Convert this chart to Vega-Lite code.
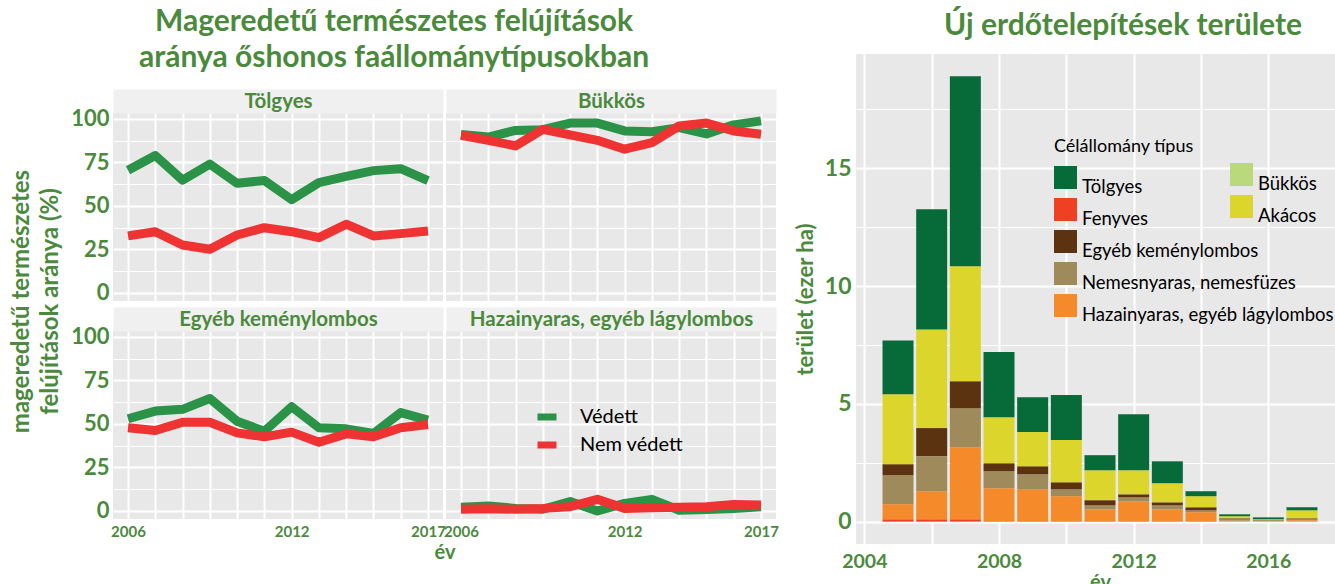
{
  "$schema": "https://vega.github.io/schema/vega-lite/v6.json",
  "background": "white",
  "padding": {"left": 9, "top": 7, "right": 0, "bottom": 0},
  "config": {
    "font": "Lato",
    "view": {"fill": "#e8e8e8", "stroke": null},
    "axis": {"gridColor": "white", "domain": false, "ticks": false, "labelColor": "#4b8a3c", "titleColor": "#4b8a3c", "labelFontWeight": "bold", "titleFontWeight": "bold", "labelFont": "Lato", "titleFont": "Lato", "labelFlush": false, "labelOverlap": false},
    "title": {"color": "#4b8a3c", "fontSize": 30, "fontWeight": "bold", "font": "Lato"},
    "legend": {"labelFont": "Lato", "titleFont": "Lato", "labelFontSize": 18.5, "labelColor": "black", "titleFontSize": 18, "titleFontWeight": "normal", "titleColor": "black", "padding": 0, "labelLimit": 400}
  },
  "datasets": {
    "lines": [
      {"panel": "Tölgyes", "status": "Védett", "year": 2006, "value": 70.5},
      {"panel": "Tölgyes", "status": "Védett", "year": 2007, "value": 79.0},
      {"panel": "Tölgyes", "status": "Védett", "year": 2008, "value": 64.8},
      {"panel": "Tölgyes", "status": "Védett", "year": 2009, "value": 74.0},
      {"panel": "Tölgyes", "status": "Védett", "year": 2010, "value": 63.0},
      {"panel": "Tölgyes", "status": "Védett", "year": 2011, "value": 64.6},
      {"panel": "Tölgyes", "status": "Védett", "year": 2012, "value": 53.6},
      {"panel": "Tölgyes", "status": "Védett", "year": 2013, "value": 63.4},
      {"panel": "Tölgyes", "status": "Védett", "year": 2014, "value": 67.0},
      {"panel": "Tölgyes", "status": "Védett", "year": 2015, "value": 70.3},
      {"panel": "Tölgyes", "status": "Védett", "year": 2016, "value": 71.4},
      {"panel": "Tölgyes", "status": "Védett", "year": 2017, "value": 64.6},
      {"panel": "Bükkös", "status": "Védett", "year": 2006, "value": 91.0},
      {"panel": "Bükkös", "status": "Védett", "year": 2007, "value": 89.6},
      {"panel": "Bükkös", "status": "Védett", "year": 2008, "value": 93.4},
      {"panel": "Bükkös", "status": "Védett", "year": 2009, "value": 93.8},
      {"panel": "Bükkös", "status": "Védett", "year": 2010, "value": 97.6},
      {"panel": "Bükkös", "status": "Védett", "year": 2011, "value": 97.6},
      {"panel": "Bükkös", "status": "Védett", "year": 2012, "value": 93.1},
      {"panel": "Bükkös", "status": "Védett", "year": 2013, "value": 92.6},
      {"panel": "Bükkös", "status": "Védett", "year": 2014, "value": 95.0},
      {"panel": "Bükkös", "status": "Védett", "year": 2015, "value": 91.4},
      {"panel": "Bükkös", "status": "Védett", "year": 2016, "value": 96.6},
      {"panel": "Bükkös", "status": "Védett", "year": 2017, "value": 98.9},
      {"panel": "Egyéb keménylombos", "status": "Védett", "year": 2006, "value": 53.0},
      {"panel": "Egyéb keménylombos", "status": "Védett", "year": 2007, "value": 57.4},
      {"panel": "Egyéb keménylombos", "status": "Védett", "year": 2008, "value": 58.4},
      {"panel": "Egyéb keménylombos", "status": "Védett", "year": 2009, "value": 64.6},
      {"panel": "Egyéb keménylombos", "status": "Védett", "year": 2010, "value": 51.6},
      {"panel": "Egyéb keménylombos", "status": "Védett", "year": 2011, "value": 45.8},
      {"panel": "Egyéb keménylombos", "status": "Védett", "year": 2012, "value": 59.9},
      {"panel": "Egyéb keménylombos", "status": "Védett", "year": 2013, "value": 47.8},
      {"panel": "Egyéb keménylombos", "status": "Védett", "year": 2014, "value": 47.2},
      {"panel": "Egyéb keménylombos", "status": "Védett", "year": 2015, "value": 44.5},
      {"panel": "Egyéb keménylombos", "status": "Védett", "year": 2016, "value": 56.5},
      {"panel": "Egyéb keménylombos", "status": "Védett", "year": 2017, "value": 52.2},
      {"panel": "Hazainyaras, egyéb lágylombos", "status": "Védett", "year": 2006, "value": 2.1},
      {"panel": "Hazainyaras, egyéb lágylombos", "status": "Védett", "year": 2007, "value": 2.9},
      {"panel": "Hazainyaras, egyéb lágylombos", "status": "Védett", "year": 2008, "value": 1.5},
      {"panel": "Hazainyaras, egyéb lágylombos", "status": "Védett", "year": 2009, "value": 1.0},
      {"panel": "Hazainyaras, egyéb lágylombos", "status": "Védett", "year": 2010, "value": 5.4},
      {"panel": "Hazainyaras, egyéb lágylombos", "status": "Védett", "year": 2011, "value": 0.0},
      {"panel": "Hazainyaras, egyéb lágylombos", "status": "Védett", "year": 2012, "value": 4.4},
      {"panel": "Hazainyaras, egyéb lágylombos", "status": "Védett", "year": 2013, "value": 6.7},
      {"panel": "Hazainyaras, egyéb lágylombos", "status": "Védett", "year": 2014, "value": 0.4},
      {"panel": "Hazainyaras, egyéb lágylombos", "status": "Védett", "year": 2015, "value": 0.8},
      {"panel": "Hazainyaras, egyéb lágylombos", "status": "Védett", "year": 2016, "value": 1.5},
      {"panel": "Hazainyaras, egyéb lágylombos", "status": "Védett", "year": 2017, "value": 2.5},
      {"panel": "Tölgyes", "status": "Nem védett", "year": 2006, "value": 32.8},
      {"panel": "Tölgyes", "status": "Nem védett", "year": 2007, "value": 35.2},
      {"panel": "Tölgyes", "status": "Nem védett", "year": 2008, "value": 27.6},
      {"panel": "Tölgyes", "status": "Nem védett", "year": 2009, "value": 25.1},
      {"panel": "Tölgyes", "status": "Nem védett", "year": 2010, "value": 33.3},
      {"panel": "Tölgyes", "status": "Nem védett", "year": 2011, "value": 37.5},
      {"panel": "Tölgyes", "status": "Nem védett", "year": 2012, "value": 35.2},
      {"panel": "Tölgyes", "status": "Nem védett", "year": 2013, "value": 31.8},
      {"panel": "Tölgyes", "status": "Nem védett", "year": 2014, "value": 39.5},
      {"panel": "Tölgyes", "status": "Nem védett", "year": 2015, "value": 32.8},
      {"panel": "Tölgyes", "status": "Nem védett", "year": 2016, "value": 34.1},
      {"panel": "Tölgyes", "status": "Nem védett", "year": 2017, "value": 35.6},
      {"panel": "Bükkös", "status": "Nem védett", "year": 2006, "value": 90.6},
      {"panel": "Bükkös", "status": "Nem védett", "year": 2007, "value": 87.7},
      {"panel": "Bükkös", "status": "Nem védett", "year": 2008, "value": 84.5},
      {"panel": "Bükkös", "status": "Nem védett", "year": 2009, "value": 94.0},
      {"panel": "Bükkös", "status": "Nem védett", "year": 2010, "value": 90.8},
      {"panel": "Bükkös", "status": "Nem védett", "year": 2011, "value": 87.7},
      {"panel": "Bükkös", "status": "Nem védett", "year": 2012, "value": 82.6},
      {"panel": "Bükkös", "status": "Nem védett", "year": 2013, "value": 86.4},
      {"panel": "Bükkös", "status": "Nem védett", "year": 2014, "value": 96.0},
      {"panel": "Bükkös", "status": "Nem védett", "year": 2015, "value": 97.6},
      {"panel": "Bükkös", "status": "Nem védett", "year": 2016, "value": 93.1},
      {"panel": "Bükkös", "status": "Nem védett", "year": 2017, "value": 91.2},
      {"panel": "Egyéb keménylombos", "status": "Nem védett", "year": 2006, "value": 47.8},
      {"panel": "Egyéb keménylombos", "status": "Nem védett", "year": 2007, "value": 46.2},
      {"panel": "Egyéb keménylombos", "status": "Nem védett", "year": 2008, "value": 51.0},
      {"panel": "Egyéb keménylombos", "status": "Nem védett", "year": 2009, "value": 51.0},
      {"panel": "Egyéb keménylombos", "status": "Nem védett", "year": 2010, "value": 44.9},
      {"panel": "Egyéb keménylombos", "status": "Nem védett", "year": 2011, "value": 42.6},
      {"panel": "Egyéb keménylombos", "status": "Nem védett", "year": 2012, "value": 45.3},
      {"panel": "Egyéb keménylombos", "status": "Nem védett", "year": 2013, "value": 39.5},
      {"panel": "Egyéb keménylombos", "status": "Nem védett", "year": 2014, "value": 44.3},
      {"panel": "Egyéb keménylombos", "status": "Nem védett", "year": 2015, "value": 42.6},
      {"panel": "Egyéb keménylombos", "status": "Nem védett", "year": 2016, "value": 47.8},
      {"panel": "Egyéb keménylombos", "status": "Nem védett", "year": 2017, "value": 49.7},
      {"panel": "Hazainyaras, egyéb lágylombos", "status": "Nem védett", "year": 2006, "value": 1.0},
      {"panel": "Hazainyaras, egyéb lágylombos", "status": "Nem védett", "year": 2007, "value": 1.3},
      {"panel": "Hazainyaras, egyéb lágylombos", "status": "Nem védett", "year": 2008, "value": 1.0},
      {"panel": "Hazainyaras, egyéb lágylombos", "status": "Nem védett", "year": 2009, "value": 1.5},
      {"panel": "Hazainyaras, egyéb lágylombos", "status": "Nem védett", "year": 2010, "value": 2.5},
      {"panel": "Hazainyaras, egyéb lágylombos", "status": "Nem védett", "year": 2011, "value": 6.7},
      {"panel": "Hazainyaras, egyéb lágylombos", "status": "Nem védett", "year": 2012, "value": 1.5},
      {"panel": "Hazainyaras, egyéb lágylombos", "status": "Nem védett", "year": 2013, "value": 1.9},
      {"panel": "Hazainyaras, egyéb lágylombos", "status": "Nem védett", "year": 2014, "value": 2.1},
      {"panel": "Hazainyaras, egyéb lágylombos", "status": "Nem védett", "year": 2015, "value": 2.5},
      {"panel": "Hazainyaras, egyéb lágylombos", "status": "Nem védett", "year": 2016, "value": 3.7},
      {"panel": "Hazainyaras, egyéb lágylombos", "status": "Nem védett", "year": 2017, "value": 3.5}
    ],
    "bars": [
      {"year": 2005, "type": "Fenyves", "value": 0.10},
      {"year": 2005, "type": "Hazainyaras, egyéb lágylombos", "value": 0.64},
      {"year": 2005, "type": "Nemesnyaras, nemesfüzes", "value": 1.23},
      {"year": 2005, "type": "Egyéb keménylombos", "value": 0.47},
      {"year": 2005, "type": "Akácos", "value": 2.97},
      {"year": 2005, "type": "Tölgyes", "value": 2.28},
      {"year": 2006, "type": "Fenyves", "value": 0.10},
      {"year": 2006, "type": "Hazainyaras, egyéb lágylombos", "value": 1.19},
      {"year": 2006, "type": "Nemesnyaras, nemesfüzes", "value": 1.49},
      {"year": 2006, "type": "Egyéb keménylombos", "value": 1.19},
      {"year": 2006, "type": "Akácos", "value": 4.19},
      {"year": 2006, "type": "Tölgyes", "value": 5.10},
      {"year": 2007, "type": "Fenyves", "value": 0.10},
      {"year": 2007, "type": "Hazainyaras, egyéb lágylombos", "value": 3.06},
      {"year": 2007, "type": "Nemesnyaras, nemesfüzes", "value": 1.66},
      {"year": 2007, "type": "Egyéb keménylombos", "value": 1.14},
      {"year": 2007, "type": "Akácos", "value": 4.88},
      {"year": 2007, "type": "Tölgyes", "value": 8.07},
      {"year": 2008, "type": "Fenyves", "value": 0.02},
      {"year": 2008, "type": "Hazainyaras, egyéb lágylombos", "value": 1.40},
      {"year": 2008, "type": "Nemesnyaras, nemesfüzes", "value": 0.72},
      {"year": 2008, "type": "Egyéb keménylombos", "value": 0.34},
      {"year": 2008, "type": "Akácos", "value": 1.95},
      {"year": 2008, "type": "Tölgyes", "value": 2.77},
      {"year": 2009, "type": "Fenyves", "value": 0.02},
      {"year": 2009, "type": "Hazainyaras, egyéb lágylombos", "value": 1.35},
      {"year": 2009, "type": "Nemesnyaras, nemesfüzes", "value": 0.64},
      {"year": 2009, "type": "Egyéb keménylombos", "value": 0.34},
      {"year": 2009, "type": "Akácos", "value": 1.45},
      {"year": 2009, "type": "Tölgyes", "value": 1.48},
      {"year": 2010, "type": "Fenyves", "value": 0.02},
      {"year": 2010, "type": "Hazainyaras, egyéb lágylombos", "value": 1.06},
      {"year": 2010, "type": "Nemesnyaras, nemesfüzes", "value": 0.29},
      {"year": 2010, "type": "Egyéb keménylombos", "value": 0.30},
      {"year": 2010, "type": "Akácos", "value": 1.79},
      {"year": 2010, "type": "Tölgyes", "value": 1.91},
      {"year": 2011, "type": "Fenyves", "value": 0.02},
      {"year": 2011, "type": "Hazainyaras, egyéb lágylombos", "value": 0.50},
      {"year": 2011, "type": "Nemesnyaras, nemesfüzes", "value": 0.17},
      {"year": 2011, "type": "Egyéb keménylombos", "value": 0.22},
      {"year": 2011, "type": "Akácos", "value": 1.27},
      {"year": 2011, "type": "Tölgyes", "value": 0.64},
      {"year": 2012, "type": "Fenyves", "value": 0.02},
      {"year": 2012, "type": "Hazainyaras, egyéb lágylombos", "value": 0.84},
      {"year": 2012, "type": "Nemesnyaras, nemesfüzes", "value": 0.17},
      {"year": 2012, "type": "Egyéb keménylombos", "value": 0.13},
      {"year": 2012, "type": "Akácos", "value": 1.02},
      {"year": 2012, "type": "Tölgyes", "value": 2.38},
      {"year": 2013, "type": "Fenyves", "value": 0.02},
      {"year": 2013, "type": "Hazainyaras, egyéb lágylombos", "value": 0.50},
      {"year": 2013, "type": "Nemesnyaras, nemesfüzes", "value": 0.17},
      {"year": 2013, "type": "Egyéb keménylombos", "value": 0.13},
      {"year": 2013, "type": "Akácos", "value": 0.81},
      {"year": 2013, "type": "Tölgyes", "value": 0.93},
      {"year": 2014, "type": "Fenyves", "value": 0.02},
      {"year": 2014, "type": "Hazainyaras, egyéb lágylombos", "value": 0.38},
      {"year": 2014, "type": "Nemesnyaras, nemesfüzes", "value": 0.08},
      {"year": 2014, "type": "Egyéb keménylombos", "value": 0.13},
      {"year": 2014, "type": "Akácos", "value": 0.47},
      {"year": 2014, "type": "Tölgyes", "value": 0.21},
      {"year": 2015, "type": "Fenyves", "value": 0.01},
      {"year": 2015, "type": "Hazainyaras, egyéb lágylombos", "value": 0.03},
      {"year": 2015, "type": "Nemesnyaras, nemesfüzes", "value": 0.06},
      {"year": 2015, "type": "Egyéb keménylombos", "value": 0.04},
      {"year": 2015, "type": "Akácos", "value": 0.09},
      {"year": 2015, "type": "Tölgyes", "value": 0.08},
      {"year": 2016, "type": "Fenyves", "value": 0.01},
      {"year": 2016, "type": "Hazainyaras, egyéb lágylombos", "value": 0.02},
      {"year": 2016, "type": "Nemesnyaras, nemesfüzes", "value": 0.01},
      {"year": 2016, "type": "Egyéb keménylombos", "value": 0.02},
      {"year": 2016, "type": "Akácos", "value": 0.04},
      {"year": 2016, "type": "Tölgyes", "value": 0.08},
      {"year": 2017, "type": "Fenyves", "value": 0.01},
      {"year": 2017, "type": "Hazainyaras, egyéb lágylombos", "value": 0.05},
      {"year": 2017, "type": "Nemesnyaras, nemesfüzes", "value": 0.04},
      {"year": 2017, "type": "Egyéb keménylombos", "value": 0.04},
      {"year": 2017, "type": "Akácos", "value": 0.34},
      {"year": 2017, "type": "Tölgyes", "value": 0.13}
    ]
  },
  "resolve": {"scale": {"color": "independent", "fill": "independent"}},
  "spacing": 15,
  "hconcat": [
    {
      "title": {"text": ["Mageredetű természetes felújítások", "aránya őshonos faállománytípusokban"], "lineHeight": 36, "offset": -19, "anchor": "middle"},
      "spacing": 27,
      "vconcat": [
        {
          "width": 330, "height": 10,
          "view": {"fill": null, "stroke": null},
          "data": {"values": [{"spacer": 0}]},
          "mark": {"type": "point", "opacity": 0},
          "encoding": {}
        },
        {
          "columns": 2,
          "spacing": {"row": 30, "column": 3},
          "bounds": "flush",
          "resolve": {"scale": {"color": "independent"}},
          "concat": [
            {
              "width": 330, "height": 188,
              "data": {"name": "lines"},
              "transform": [{"filter": "datum.panel === 'Tölgyes'"}],
              "layer": [
                {
                  "mark": {"type": "line", "strokeWidth": 9, "strokeJoin": "round"},
                  "encoding": {
                    "x": {"field": "year", "type": "quantitative", "scale": {"domain": [2005.45, 2017.55], "nice": false, "zero": false},
                          "axis": {"orient": "bottom", "values": [2006, 2007, 2008, 2009, 2010, 2011, 2012, 2013, 2014, 2015, 2016, 2017], "labels": false, "title": null, "gridWidth": 2}},
                    "y": {"field": "value", "type": "quantitative", "scale": {"domain": [-4.6, 103.4], "nice": false, "zero": false},
                          "axis": {"values": [0, 12.5, 25, 37.5, 50, 62.5, 75, 87.5, 100], "labelExpr": "datum.value % 25 === 0 ? datum.label : ''", "labelFontSize": 22, "labelPadding": 4, "title": null, "gridWidth": {"condition": {"test": "datum.value % 25 === 0", "value": 2}, "value": 1.2}}},
                    "color": {"field": "status", "type": "nominal", "scale": {"domain": ["Védett", "Nem védett"], "range": ["#2b9348", "#ef3232"]}, "legend": null}
                  }
                },
                {
                  "mark": {"type": "point", "opacity": 0},
                  "encoding": {
                    "x": {"field": "year", "type": "quantitative",
                          "axis": {"orient": "top", "title": "Tölgyes", "labels": false, "grid": false, "domain": true, "domainColor": "#f0f0f0", "domainWidth": 24, "offset": 12, "titleBaseline": "middle", "titleY": 0, "titleFontSize": 20.5, "titlePadding": 0}}
                  }
                }
              ]
            },
            {
              "width": 330, "height": 188,
              "data": {"name": "lines"},
              "transform": [{"filter": "datum.panel === 'Bükkös'"}],
              "layer": [
                {
                  "mark": {"type": "line", "strokeWidth": 9, "strokeJoin": "round"},
                  "encoding": {
                    "x": {"field": "year", "type": "quantitative", "scale": {"domain": [2005.45, 2017.55], "nice": false, "zero": false},
                          "axis": {"orient": "bottom", "values": [2006, 2007, 2008, 2009, 2010, 2011, 2012, 2013, 2014, 2015, 2016, 2017], "labels": false, "title": null, "gridWidth": 2}},
                    "y": {"field": "value", "type": "quantitative", "scale": {"domain": [-4.6, 103.4], "nice": false, "zero": false},
                          "axis": {"values": [0, 12.5, 25, 37.5, 50, 62.5, 75, 87.5, 100], "labels": false, "title": null, "gridWidth": {"condition": {"test": "datum.value % 25 === 0", "value": 2}, "value": 1.2}}},
                    "color": {"field": "status", "type": "nominal", "scale": {"domain": ["Védett", "Nem védett"], "range": ["#2b9348", "#ef3232"]}, "legend": null}
                  }
                },
                {
                  "mark": {"type": "point", "opacity": 0},
                  "encoding": {
                    "x": {"field": "year", "type": "quantitative",
                          "axis": {"orient": "top", "title": "Bükkös", "labels": false, "grid": false, "domain": true, "domainColor": "#f0f0f0", "domainWidth": 24, "offset": 12, "titleBaseline": "middle", "titleY": 0, "titleFontSize": 20.5, "titlePadding": 0}}
                  }
                }
              ]
            },
            {
              "width": 330, "height": 188,
              "data": {"name": "lines"},
              "transform": [{"filter": "datum.panel === 'Egyéb keménylombos'"}],
              "layer": [
                {
                  "mark": {"type": "line", "strokeWidth": 9, "strokeJoin": "round"},
                  "encoding": {
                    "x": {"field": "year", "type": "quantitative", "scale": {"domain": [2005.45, 2017.55], "nice": false, "zero": false},
                          "axis": {"orient": "bottom", "values": [2006, 2007, 2008, 2009, 2010, 2011, 2012, 2013, 2014, 2015, 2016, 2017], "format": "d", "labelExpr": "datum.value === 2006 || datum.value === 2012 || datum.value === 2017 ? datum.label : ''", "labelFontSize": 15, "labelPadding": 5, "title": "év", "titleX": 331.5, "titleFontSize": 20, "titlePadding": 3, "gridWidth": 2}},
                    "y": {"field": "value", "type": "quantitative", "scale": {"domain": [-4.6, 103.4], "nice": false, "zero": false},
                          "axis": {"values": [0, 12.5, 25, 37.5, 50, 62.5, 75, 87.5, 100], "labelExpr": "datum.value % 25 === 0 ? datum.label : ''", "labelFontSize": 22, "labelPadding": 4, "title": ["mageredetű természetes", "felújítások aránya (%)"], "titleFontSize": 24, "titleLineHeight": 29, "titleY": -30, "titlePadding": 8, "gridWidth": {"condition": {"test": "datum.value % 25 === 0", "value": 2}, "value": 1.2}}},
                    "color": {"field": "status", "type": "nominal", "scale": {"domain": ["Védett", "Nem védett"], "range": ["#2b9348", "#ef3232"]}, "legend": null}
                  }
                },
                {
                  "mark": {"type": "point", "opacity": 0},
                  "encoding": {
                    "x": {"field": "year", "type": "quantitative",
                          "axis": {"orient": "top", "title": "Egyéb keménylombos", "labels": false, "grid": false, "domain": true, "domainColor": "#f0f0f0", "domainWidth": 24, "offset": 12, "titleBaseline": "middle", "titleY": 0, "titleFontSize": 20.5, "titlePadding": 0}}
                  }
                }
              ]
            },
            {
              "width": 330, "height": 188,
              "data": {"name": "lines"},
              "transform": [{"filter": "datum.panel === 'Hazainyaras, egyéb lágylombos'"}],
              "layer": [
                {
                  "mark": {"type": "line", "strokeWidth": 9, "strokeJoin": "round"},
                  "encoding": {
                    "x": {"field": "year", "type": "quantitative", "scale": {"domain": [2005.45, 2017.55], "nice": false, "zero": false},
                          "axis": {"orient": "bottom", "values": [2006, 2007, 2008, 2009, 2010, 2011, 2012, 2013, 2014, 2015, 2016, 2017], "format": "d", "labelExpr": "datum.value === 2006 || datum.value === 2012 || datum.value === 2017 ? datum.label : ''", "labelFontSize": 15, "labelPadding": 5, "title": null, "gridWidth": 2}},
                    "y": {"field": "value", "type": "quantitative", "scale": {"domain": [-4.6, 103.4], "nice": false, "zero": false},
                          "axis": {"values": [0, 12.5, 25, 37.5, 50, 62.5, 75, 87.5, 100], "labels": false, "title": null, "gridWidth": {"condition": {"test": "datum.value % 25 === 0", "value": 2}, "value": 1.2}}},
                    "color": {"field": "status", "type": "nominal", "scale": {"domain": ["Védett", "Nem védett"], "range": ["#2b9348", "#ef3232"]},
                              "legend": {"orient": "none", "legendX": 88, "legendY": 73, "title": null, "symbolType": "stroke", "symbolSize": 361, "symbolStrokeWidth": 7, "labelFontSize": 20, "labelColor": "black", "labelOffset": 20, "rowPadding": 0}}
                  }
                },
                {
                  "mark": {"type": "point", "opacity": 0},
                  "encoding": {
                    "x": {"field": "year", "type": "quantitative",
                          "axis": {"orient": "top", "title": "Hazainyaras, egyéb lágylombos", "labels": false, "grid": false, "domain": true, "domainColor": "#f0f0f0", "domainWidth": 24, "offset": 12, "titleBaseline": "middle", "titleY": 0, "titleFontSize": 20.5, "titlePadding": 0}}
                  }
                }
              ]
            }
          ]
        }
      ]
    },
    {
      "title": {"text": "Új erdőtelepítések területe", "offset": 13, "anchor": "middle", "dx": 23},
      "width": 488, "height": 490,
      "data": {"name": "bars"},
      "layer": [
        {
          "mark": {"type": "bar", "width": 31},
          "encoding": {
            "x": {"field": "year", "type": "quantitative", "scale": {"domain": [2003.9, 2018.1], "nice": false, "zero": false},
                  "axis": {"values": [2004, 2005, 2006, 2007, 2008, 2009, 2010, 2011, 2012, 2013, 2014, 2015, 2016, 2017, 2018], "format": "d", "labelExpr": "datum.value % 4 === 0 ? datum.label : ''", "labelFontSize": 19.5, "labelPadding": 8, "title": "év", "titleFontSize": 20, "titlePadding": 2, "gridWidth": 2}},
            "y": {"field": "value", "type": "quantitative", "stack": "zero", "scale": {"domain": [-0.95, 19.85], "nice": false, "zero": false},
                  "axis": {"values": [0, 2.5, 5, 7.5, 10, 12.5, 15, 17.5], "labelExpr": "datum.value % 5 === 0 ? datum.label : ''", "labelFontSize": 23, "labelPadding": 5, "title": "terület (ezer ha)", "titleFontSize": 22, "titlePadding": 7, "gridWidth": {"condition": {"test": "datum.value % 5 === 0", "value": 2}, "value": 1.2}}},
            "color": {"field": "type", "type": "nominal",
                      "scale": {"domain": ["Tölgyes", "Fenyves", "Egyéb keménylombos", "Nemesnyaras, nemesfüzes", "Hazainyaras, egyéb lágylombos", "Bükkös", "Akácos"], "range": ["#076a39", "#ee4124", "#5c3311", "#9e8a5a", "#f58a2b", "#b9d97a", "#dcd52c"]},
                      "legend": {"values": ["Tölgyes", "Fenyves", "Egyéb keménylombos", "Nemesnyaras, nemesfüzes", "Hazainyaras, egyéb lágylombos"], "title": "Célállomány típus", "orient": "none", "legendX": 198, "legendY": 84, "symbolType": "square", "symbolSize": 529, "symbolStrokeWidth": 0, "rowPadding": 2, "titlePadding": 10, "labelOffset": 5, "labelBaseline": "top"}},
            "order": {"field": "year", "type": "quantitative"}
          }
        },
        {
          "mark": {"type": "text", "text": ""},
          "encoding": {
            "x": {"field": "year", "type": "quantitative"},
            "y": {"field": "value", "type": "quantitative"},
            "fill": {"field": "type", "type": "nominal",
                     "scale": {"domain": ["Bükkös", "Akácos"], "range": ["#b9d97a", "#dcd52c"]},
                     "legend": {"title": null, "orient": "none", "legendX": 374, "legendY": 109, "symbolType": "square", "symbolSize": 529, "symbolStrokeWidth": 0, "rowPadding": 2, "labelOffset": 5, "labelBaseline": "top"}}
          }
        }
      ]
    }
  ]
}
